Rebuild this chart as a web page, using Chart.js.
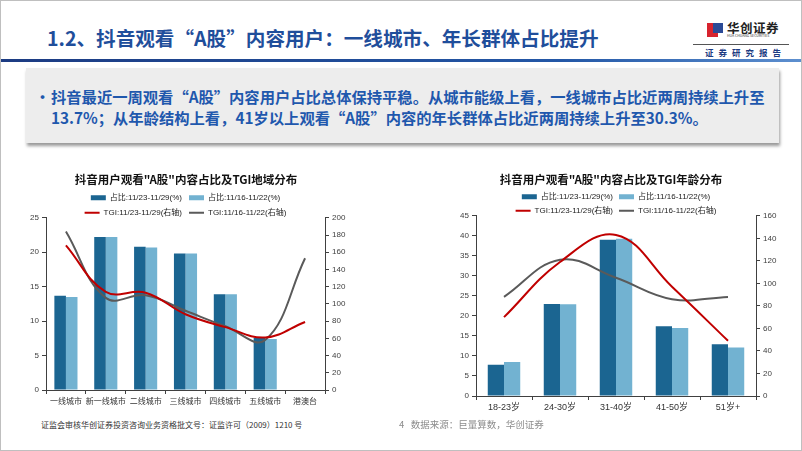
<!DOCTYPE html>
<html>
<head>
<meta charset="utf-8">
<script src="https://cdn.jsdelivr.net/npm/chart.js@4/dist/chart.umd.min.js"></script>
<style>
  body { margin: 0; background: #fff; font-family: "Noto Sans CJK SC", "Noto Sans", sans-serif; }
  #slide { position: relative; width: 800px; height: 449px; border: 1px solid #bfbfbf; overflow: hidden; background: #fff; }
  #title { position: absolute; left: 46px; top: 22px; font-size: 19.6px; font-weight: bold; color: #1f4e9b; white-space: nowrap; }
  #band { position: absolute; left: 0; top: 58px; width: 800px; height: 3px; background: linear-gradient(to right, #1c3b82, #2357a6 70%, #5d8fcf); }
  #logoIcon1 { position: absolute; left: 706px; top: 22px; width: 11px; height: 14px; background: #d7232e; }
  #logoIcon2 { position: absolute; left: 712px; top: 22px; width: 10px; height: 10px; background: #2b4a96; }
  #logoName { position: absolute; left: 726px; top: 17px; font-size: 12.5px; font-weight: bold; color: #222; letter-spacing: 0.5px; }
  #logoSub { position: absolute; left: 726px; top: 32px; font-size: 3.5px; color: #333; white-space: nowrap; }
  #logoLine { position: absolute; left: 692px; top: 43px; width: 96px; height: 1px; background: #555; }
  #logoTag { position: absolute; left: 704px; top: 45px; font-size: 8.5px; color: #1c3b82; letter-spacing: 5px; white-space: nowrap; font-weight: bold; }
  #box { position: absolute; left: 25px; top: 67px; width: 753px; height: 75px; background: #ededed; box-shadow: 1px 3px 3px #9a9a9a; }
  #box .bullet { position: absolute; left: 9px; top: 18px; font-size: 15px; color: #1f58ad; font-weight: bold; }
  #box .txt { position: absolute; left: 25px; top: 18px; width: 725px; font-size: 15.3px; line-height: 21px; font-weight: bold; color: #1f58ad; }
  canvas { position: absolute; }
  #c1 { left: 0px; top: 160px; }
  #c2 { left: 420px; top: 160px; }
  #foot1 { position: absolute; left: 40px; top: 418px; font-size: 8px; color: #333; white-space: nowrap; }
  #foot2 { position: absolute; left: 398px; top: 416px; font-size: 9.5px; color: #8c8c8c; white-space: nowrap; }
</style>
</head>
<body>
<div id="slide">
  <div id="title">1.2、抖音观看“A股”内容用户：一线城市、年长群体占比提升</div>
  <div id="logoIcon1"></div><div id="logoIcon2"></div>
  <div id="logoName">华创证券</div>
  <div id="logoSub">HUA CHUANG SECURITIES</div>
  <div id="logoLine"></div>
  <div id="logoTag">证券研究报告</div>
  <div id="band"></div>
  <div id="box">
    <div class="bullet">•</div>
    <div class="txt">抖音最近一周观看“A股”内容用户占比总体保持平稳。从城市能级上看，一线城市占比近两周持续上升至13.7%；从年龄结构上看，41岁以上观看“A股”内容的年长群体占比近两周持续上升至30.3%。</div>
  </div>
  <canvas id="c1" width="370" height="255"></canvas>
  <canvas id="c2" width="380" height="262"></canvas>
  <div id="foot1">证监会审核华创证券投资咨询业务资格批文号：证监许可（2009）1210 号</div>
  <div id="foot2">4 &nbsp;&nbsp;数据来源：巨量算数，华创证券</div>
</div>
<script>
  // data
  let cityCats = ['一线城市', '新一线城市', '二线城市', '三线城市', '四线城市', '五线城市', '港澳台'];
  let cityShareNow = [13.7, 22.2, 20.8, 19.8, 13.9, 7.6, null];
  let cityShareLast = [13.5, 22.2, 20.7, 19.8, 13.9, 7.4, null];
  let cityTgiNow = [168, 114, 113, 88, 73, 61, 79];
  let cityTgiLast = [184, 107, 110, 92, 74, 58, 153];

  let ageCats = ['18-23岁', '24-30岁', '31-40岁', '41-50岁', '51岁+'];
  let ageShareNow = [7.8, 23.0, 39.0, 17.4, 12.9];
  let ageShareLast = [8.5, 22.9, 39.3, 17.0, 12.1];
  let ageTgiNow = [70, 119, 143, 97, 49];
  let ageTgiLast = [88, 121, 105, 86, 88];

  let seriesNames = ['占比:11/23-11/29(%)', '占比:11/16-11/22(%)', 'TGI:11/23-11/29(右轴)', 'TGI:11/16-11/22(右轴)'];

  const darkBlue = '#1b6591';
  const lightBlue = '#72b2d1';
  const red = '#c00000';
  const grey = '#5a5a5a';
  const axisColor = '#404040';

  // legend sits closer to the plot than chart.js allows by default
  const tightLegend = {
    id: 'tightLegend',
    beforeLayout: function (chart){
      let lg = chart.legend;
      if (lg && !lg._tight){
        let f = lg.fit;
        lg.fit = function (){ f.call(this); this.height -= 9; };
        lg._tight = true;
      }
    }
  };

  function makeChart(id, opts){
    const ctx = document.getElementById(id);
    return new Chart(ctx, {
      type: 'bar',
      plugins: [tightLegend],
      data: {
        labels: opts.labels,
        datasets: [{
          label: seriesNames[0],
          data: opts.a,
          backgroundColor: darkBlue,
          yAxisID: 'y',
          order: 2,
          categoryPercentage: 0.58,
          barPercentage: 1.0
        }, {
          label: seriesNames[1],
          data: opts.b,
          backgroundColor: lightBlue,
          yAxisID: 'y',
          order: 2,
          categoryPercentage: 0.58,
          barPercentage: 1.0
        }, {
          type: 'line',
          label: seriesNames[2],
          data: opts.c,
          borderColor: red,
          borderWidth: 2,
          pointRadius: 0,
          tension: 0.4,
          yAxisID: 'y1',
          order: 0
        }, {
          type: 'line',
          label: seriesNames[3],
          data: opts.d,
          borderColor: grey,
          borderWidth: 2,
          pointRadius: 0,
          tension: 0.4,
          yAxisID: 'y1',
          order: 1
        }]
      },
      options: {
        responsive: false,
        animation: false,
        layout: { padding: { left: 0, right: 0, top: 8, bottom: 0 } },
        plugins: {
          title: {
            display: true,
            text: opts.title,
            color: '#111',
            font: { family: 'Noto Sans CJK SC', size: 11.5, weight: 'bold' },
            padding: { top: 4, bottom: 0 }
          },
          legend: {
            fullSize: false,
            labels: {
              color: '#222',
              font: { family: 'Liberation Sans, Noto Sans CJK SC', size: 8 },
              usePointStyle: true,
              pointStyleWidth: 15,
              boxHeight: 5,
              padding: opts.legendPad,
              generateLabels: function (chart){
                return chart.data.datasets.map(function (ds, i){
                  let isLine = ds.type === 'line';
                  return {
                    text: ds.label,
                    datasetIndex: i,
                    fillStyle: isLine ? ds.borderColor : ds.backgroundColor,
                    strokeStyle: isLine ? ds.borderColor : ds.backgroundColor,
                    lineWidth: isLine ? 2 : 0,
                    pointStyle: isLine ? 'line' : 'rect',
                    fontColor: '#222'
                  };
                });
              }
            }
          },
          tooltip: { enabled: false }
        },
        scales: {
          x: {
            grid: { offset: true, drawOnChartArea: false, tickLength: 4, color: axisColor },
            border: { color: axisColor, width: 1 },
            ticks: { color: '#333', font: { family: opts.xFont, size: opts.xSize }, padding: 2, maxRotation: 0, autoSkip: false },
            afterFit: function (scale){ scale.height = opts.xHeight; }
          },
          y: {
            position: 'left',
            min: 0, max: opts.yMax,
            ticks: { stepSize: 5, color: axisColor, font: { family: 'Liberation Sans', size: 8 }, padding: 3 },
            grid: { drawOnChartArea: false, tickLength: 4, color: axisColor },
            border: { color: axisColor, width: 1 },
            afterFit: function (scale){ scale.width = opts.leftW; }
          },
          y1: {
            position: 'right',
            min: 0, max: opts.y1Max,
            ticks: { stepSize: 20, color: axisColor, font: { family: 'Liberation Sans', size: 8 }, padding: 3 },
            grid: { drawOnChartArea: false, tickLength: 4, color: axisColor },
            border: { color: axisColor, width: 1 },
            afterFit: function (scale){ scale.width = opts.rightW; }
          }
        }
      }
    });
  }

  makeChart('c1', {
    labels: cityCats, a: cityShareNow, b: cityShareLast, c: cityTgiNow, d: cityTgiLast,
    title: '抖音用户观看"A股"内容占比及TGI地域分布',
    yMax: 25, y1Max: 200, leftW: 45, rightW: 46, xHeight: 26, legendPad: 7,
    xFont: 'Noto Sans CJK SC', xSize: 8
  });

  makeChart('c2', {
    labels: ageCats, a: ageShareNow, b: ageShareLast, c: ageTgiNow, d: ageTgiLast,
    title: '抖音用户观看"A股"内容占比及TGI年龄分布',
    yMax: 45, y1Max: 160, leftW: 55, rightW: 45, xHeight: 27, legendPad: 6,
    xFont: 'Liberation Sans, Noto Sans CJK SC', xSize: 9
  });
</script>
</body>
</html>
